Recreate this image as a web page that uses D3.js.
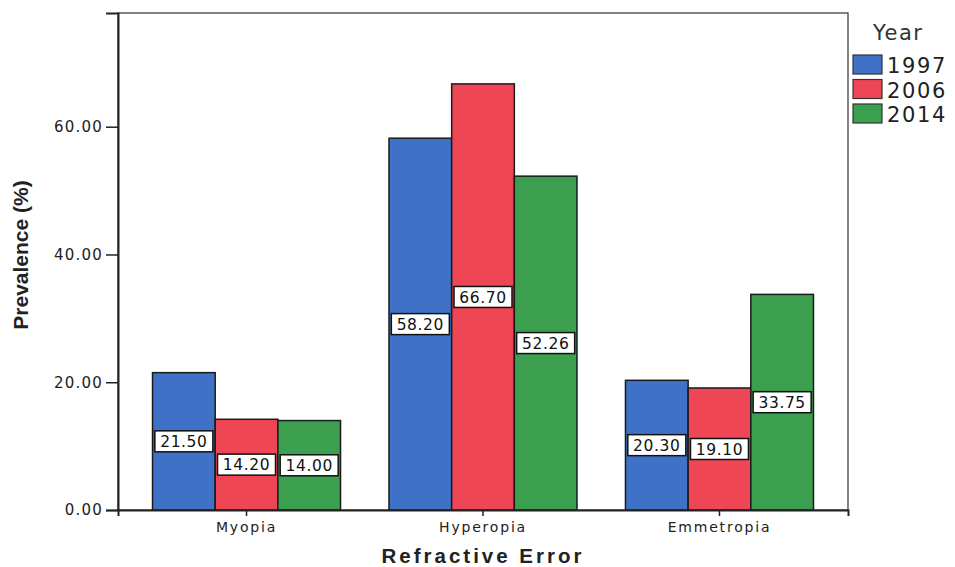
<!DOCTYPE html>
<html>
<head>
<meta charset="utf-8">
<script src="https://cdn.jsdelivr.net/npm/d3@7"></script>
<style>
  html, body { margin: 0; padding: 0; background: #fff; }
  svg { display: block; }
</style>
</head>
<body>
<svg id="chart" width="955" height="567"></svg>
<script>
// Prevalence of refractive errors by survey year
const categories = ["Myopia", "Hyperopia", "Emmetropia"];
const years = ["1997", "2006", "2014"];
const values1997 = [21.50, 58.20, 20.30];
const values2006 = [14.20, 66.70, 19.10];
const values2014 = [14.00, 52.26, 33.75];
const yTicks = [0, 20, 40, 60];

const seriesValues = [values1997, values2006, values2014];
const colors = ["#3f72c6", "#ef4656", "#3c9f50"];

const svg = d3.select("#chart");
const margin = { left: 118, right: 107, top: 13, bottom: 57 };
const W = 955, H = 567;
const x0 = margin.left, x1 = W - margin.right;
const y0 = H - margin.bottom, y1 = margin.top;

const y = d3.scaleLinear().domain([0, 77.8]).range([y0, y1]);
const xBand = d3.scaleBand().domain(categories).range([x0, x1])
  .paddingInner(0.205).paddingOuter(0.146);
const xSub = d3.scaleBand().domain(years).range([0, xBand.bandwidth()]);

const font = "'DejaVu Sans', Verdana, sans-serif";
const boldFont = "Arial, 'Liberation Sans', sans-serif";

// Plot frame
svg.append("rect")
  .attr("x", x0).attr("y", y1)
  .attr("width", x1 - x0).attr("height", y0 - y1)
  .attr("fill", "none").attr("stroke", "#333").attr("stroke-width", 1.2);

// Bars
const rows = categories.map((c, i) => ({
  cat: c,
  items: years.map((yr, j) => ({ year: yr, value: seriesValues[j][i], color: colors[j] }))
}));

const groups = svg.append("g").selectAll("g").data(rows).join("g")
  .attr("transform", d => `translate(${xBand(d.cat)},0)`);

groups.selectAll("rect").data(d => d.items).join("rect")
  .attr("x", d => xSub(d.year))
  .attr("y", d => y(d.value))
  .attr("width", xSub.bandwidth())
  .attr("height", d => y(0) - y(d.value))
  .attr("fill", d => d.color)
  .attr("stroke", "#1a1a1a").attr("stroke-width", 1.5);

// Value labels in the middle of each bar
const lbl = groups.selectAll("g.lbl").data(d => d.items).join("g")
  .attr("class", "lbl")
  .attr("transform", d => `translate(${xSub(d.year) + xSub.bandwidth() / 2},${(y(d.value) + y(0)) / 2})`);
lbl.append("rect")
  .attr("x", -29).attr("y", -10.5).attr("width", 58).attr("height", 21)
  .attr("fill", "#fff").attr("stroke", "#111").attr("stroke-width", 1.5);
lbl.append("text")
  .attr("text-anchor", "middle").attr("dy", "0.36em")
  .attr("font-family", font).attr("font-size", 15.5).attr("letter-spacing", 0.6)
  .attr("fill", "#111")
  .text(d => d.value.toFixed(2));

// Y axis
const yAxis = d3.axisLeft(y).tickValues(yTicks).tickSize(12).tickPadding(3)
  .tickFormat(d => d.toFixed(2));
const gy = svg.append("g").attr("transform", `translate(${x0},0)`).call(yAxis);
gy.select(".domain").attr("stroke", "#222").attr("stroke-width", 2);
gy.selectAll(".tick line").attr("stroke", "#222").attr("stroke-width", 1.5);
gy.selectAll(".tick text").attr("font-family", font).attr("font-size", 15)
  .attr("letter-spacing", 1.2).attr("fill", "#222");

// X axis
const xAxis = d3.axisBottom(xBand).tickSize(6).tickPadding(6);
const gx = svg.append("g").attr("transform", `translate(0,${y0})`).call(xAxis);
gx.select(".domain").attr("stroke", "#222").attr("stroke-width", 2);
gx.selectAll(".tick line").attr("stroke", "#222").attr("stroke-width", 1.5);
gx.selectAll(".tick text").attr("font-family", font).attr("font-size", 14)
  .attr("letter-spacing", 1.8).attr("fill", "#222");

// Axis titles
svg.append("text")
  .attr("x", (x0 + x1) / 2).attr("y", 563)
  .attr("text-anchor", "middle")
  .attr("font-family", boldFont).attr("font-weight", "bold").attr("font-size", 20.5)
  .attr("letter-spacing", 3).attr("fill", "#222")
  .text("Refractive Error");

svg.append("text")
  .attr("transform", "translate(28,255) rotate(-90)")
  .attr("text-anchor", "middle")
  .attr("font-family", "'Liberation Sans Narrow', 'Arial Narrow', Arial, sans-serif")
  .attr("font-weight", "bold").attr("font-size", 21).attr("fill", "#222")
  .text("Prevalence (%)");

// Legend
const legend = svg.append("g").attr("transform", "translate(853,0)");
legend.append("text")
  .attr("x", 20).attr("y", 40)
  .attr("font-family", font).attr("font-size", 21).attr("letter-spacing", 1.5).attr("fill", "#333")
  .text("Year");
const li = legend.selectAll("g.item").data(years).join("g")
  .attr("class", "item")
  .attr("transform", (d, i) => `translate(0,${55 + i * 24.5})`);
li.append("rect")
  .attr("width", 29).attr("height", 19)
  .attr("fill", (d, i) => colors[i])
  .attr("stroke", "#333").attr("stroke-width", 1.2);
li.append("text")
  .attr("x", 34).attr("y", 18)
  .attr("font-family", font).attr("font-size", 21).attr("letter-spacing", 1.6).attr("fill", "#222")
  .text(d => d);
</script>
</body>
</html>
